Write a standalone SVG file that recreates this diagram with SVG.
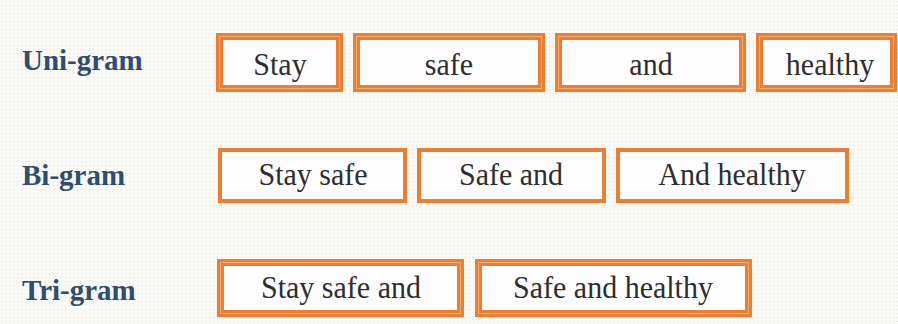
<svg xmlns="http://www.w3.org/2000/svg" width="898" height="324" viewBox="0 0 898 324">
<defs>
<pattern id="dots" width="4" height="4" patternUnits="userSpaceOnUse">
<rect width="4" height="4" fill="#f9f9f6"/>
<rect x="1" y="1" width="1" height="1" fill="#e2e2de"/>
</pattern>
<style>
.lbl{font-family:"Liberation Serif","Times New Roman",serif;font-weight:bold;font-size:29px;fill:#2f4d6e}
.txt{font-family:"Liberation Serif","Times New Roman",serif;font-size:30px;fill:#2e2e2e;text-anchor:middle}
.thick{fill:#fdfdff;stroke:#ed7d31;stroke-width:7}
.inner{fill:none;stroke:#f4aa74;stroke-width:1}
.thin{fill:#fdfdff;stroke:#ed7d31;stroke-width:4}
</style>
</defs>
<rect width="898" height="324" fill="url(#dots)"/>
<g id="labels">
<text class="lbl" transform="translate(22,70) scale(1,1.05)">Uni-gram</text>
<text class="lbl" transform="translate(22,185) scale(1,1.05)">Bi-gram</text>
<text class="lbl" transform="translate(22,300) scale(1,1.05)">Tri-gram</text>
</g>
<g id="uni-stay"><rect class="thick" x="219.5" y="36.5" width="120" height="52"/><rect class="inner" x="219.5" y="36.5" width="120" height="52"/><text class="txt" transform="translate(280,75) scale(1,1.08)">Stay</text></g>
<g id="uni-safe"><rect class="thick" x="356.5" y="36.5" width="185" height="52"/><rect class="inner" x="356.5" y="36.5" width="185" height="52"/><text class="txt" transform="translate(449,75) scale(1,1.08)">safe</text></g>
<g id="uni-and"><rect class="thick" x="558.5" y="36.5" width="184" height="52"/><rect class="inner" x="558.5" y="36.5" width="184" height="52"/><text class="txt" transform="translate(651,75) scale(1,1.08)">and</text></g>
<g id="uni-healthy"><rect class="thick" x="759.5" y="36.5" width="134" height="52"/><rect class="inner" x="759.5" y="36.5" width="134" height="52"/><text class="txt" transform="translate(830,75) scale(1,1.08)">healthy</text></g>
<g id="bi-stay-safe"><rect class="thin" x="220" y="150" width="185" height="51"/><text class="txt" transform="translate(313,185) scale(1,1.08)">Stay safe</text></g>
<g id="bi-safe-and"><rect class="thin" x="419" y="150" width="185" height="51"/><text class="txt" transform="translate(511,185) scale(1,1.08)">Safe and</text></g>
<g id="bi-and-healthy"><rect class="thin" x="618" y="150" width="229" height="51"/><text class="txt" transform="translate(732,185) scale(1,1.08)">And healthy</text></g>
<g id="tri-stay-safe-and"><rect class="thick" x="220.5" y="262.5" width="240" height="51"/><rect class="inner" x="220.5" y="262.5" width="240" height="51"/><text class="txt" transform="translate(341,298) scale(1,1.08)">Stay safe and</text></g>
<g id="tri-safe-and-healthy"><rect class="thick" x="478.5" y="262.5" width="270" height="51"/><rect class="inner" x="478.5" y="262.5" width="270" height="51"/><text class="txt" transform="translate(613,298) scale(1,1.08)">Safe and healthy</text></g>
<g id="connectors"/>
</svg>
